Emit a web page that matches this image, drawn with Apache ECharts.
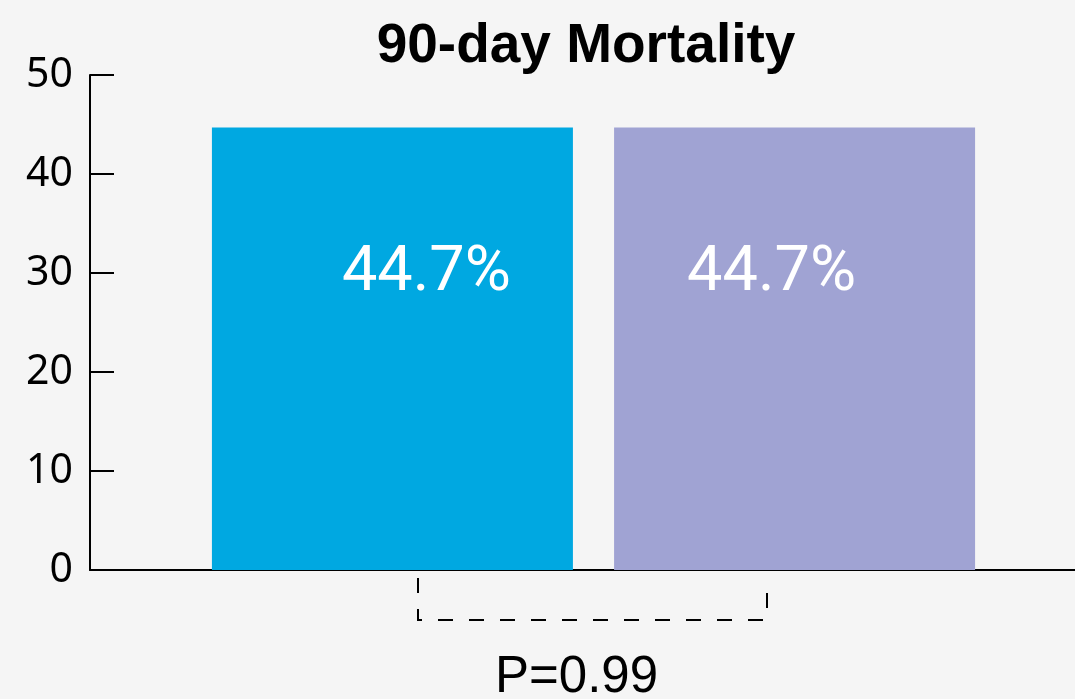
<!DOCTYPE html>
<html>
<head>
<meta charset="utf-8">
<script src="https://cdn.jsdelivr.net/npm/echarts@6/dist/echarts.min.js"></script>
<style>
html,body{margin:0;padding:0;background:#F5F5F5;}
#c{width:1075px;height:699px;}
</style>
</head>
<body>
<div id="c"></div>
<script>
const categories = ['90-day Mortality'];
const seriesNames = ['Group A', 'Group B'];
const valuesA = [44.7];
const valuesB = [44.7];
const yTicks = [0, 10, 20, 30, 40, 50];
const pValueText = 'P=0.99';

const chart = echarts.init(document.getElementById('c'));
chart.setOption({
  backgroundColor: '#F5F5F5',
  animation: false,
  title: {
    text: '90-day Mortality',
    left: 581,
    top: 14,
    textAlign: 'center',
    textStyle: { fontFamily: 'Liberation Sans', fontWeight: 'bold', fontSize: 55, color: '#000' }
  },
  grid: { left: 90, right: -22, top: 75, bottom: 129, containLabel: false, outerBoundsMode: 'none' },
  xAxis: {
    type: 'category',
    data: categories,
    axisLine: { show: true, lineStyle: { color: '#000', width: 2 } },
    axisTick: { show: false },
    axisLabel: { show: false }
  },
  yAxis: {
    type: 'value',
    min: yTicks[0],
    max: yTicks[yTicks.length - 1],
    interval: 10,
    splitLine: { show: false },
    axisLine: { show: true, lineStyle: { color: '#000', width: 2 } },
    axisTick: { show: true, inside: true, length: 24, lineStyle: { color: '#000', width: 2 } },
    axisLabel: { margin: 17, fontFamily: 'Noto Sans', fontSize: 41, color: '#000' }
  },
  series: [
    {
      name: seriesNames[0],
      type: 'bar',
      data: valuesA.map(v => ({ value: v, label: { offset: [34, -74] } })),
      barWidth: 361,
      barGap: '11.4%',
      itemStyle: { color: '#00A8E1' },
      label: {
        show: true, position: 'inside', formatter: p => p.value.toFixed(1) + '%',
        fontFamily: 'Roboto', fontSize: 63, color: '#fff'
      }
    },
    {
      name: seriesNames[1],
      type: 'bar',
      data: valuesB.map(v => ({ value: v, label: { offset: [-23, -74] } })),
      barWidth: 361,
      itemStyle: { color: '#A0A3D3' },
      label: {
        show: true, position: 'inside', formatter: p => p.value.toFixed(1) + '%',
        fontFamily: 'Roboto', fontSize: 63, color: '#fff'
      }
    }
  ],
  graphic: [
    {
      type: 'polyline',
      shape: { points: [[418, 578], [418, 620], [767, 620], [767, 578]] },
      style: { stroke: '#000', lineWidth: 2, fill: null, lineDash: [15, 16] },
      z: 10
    },
    {
      type: 'text',
      left: 495,
      top: 652,
      style: { text: pValueText, fontFamily: 'Liberation Sans', fontSize: 51, fill: '#000' },
      z: 10
    }
  ]
});
</script>
</body>
</html>
